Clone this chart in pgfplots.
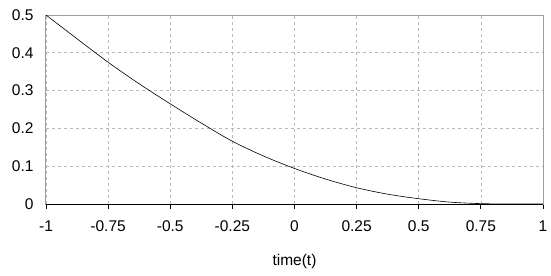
\documentclass[border=0pt]{standalone}
\usepackage{fontspec}
\setmainfont{Liberation Sans}
\usepackage{pgfplots}
\pgfplotsset{compat=1.18}
\begin{document}
\begin{tikzpicture}
\begin{axis}[
  scale only axis,
  width=497bp, height=189bp,
  xmin=-1, xmax=1, ymin=0, ymax=0.5,
  xtick={-1,-0.75,-0.5,-0.25,0,0.25,0.5,0.75,1},
  xticklabels={-1,-0.75,-0.5,-0.25,0,0.25,0.5,0.75,1},
  ytick={0,0.1,0.2,0.3,0.4,0.5},
  yticklabels={0,0.1,0.2,0.3,0.4,0.5},
  xtick pos=bottom, ytick pos=left,
  tick align=outside,
  major tick length=5bp,
  xtick style={black, line width=0.8bp},
  ytick style={draw=none},
  xticklabel style={yshift=-8bp},
  yticklabel style={xshift=-4bp},
  grid=major,
  major grid style={draw=black!27, dashed, line width=0.7bp},
  axis line style={draw=black!38, line width=1bp},
  xlabel={time(t)},
  xlabel style={yshift=-16bp},
  tick label style={font=\fontsize{15.5bp}{18bp}\selectfont},
  label style={font=\fontsize{15.5bp}{18bp}\selectfont},
  clip=false,
]
\addplot[black, line width=0.6bp, smooth, no markers] coordinates {
(-1,0.5) (-0.875,0.437) (-0.75,0.375) (-0.625,0.318) (-0.5,0.265)
(-0.375,0.214) (-0.25,0.166) (-0.125,0.127) (0,0.094) (0.125,0.066)
(0.25,0.043) (0.375,0.026) (0.5,0.014) (0.625,0.005) (0.75,0.001)
(0.875,0) (1,0)
};
\draw[black, line width=1bp] (rel axis cs:0,0) -- (rel axis cs:1,0);
\end{axis}
\path ([shift={(-46bp,-72bp)}]current axis.south west) rectangle ([shift={(8bp,15bp)}]current axis.north east);
\end{tikzpicture}
\end{document}
